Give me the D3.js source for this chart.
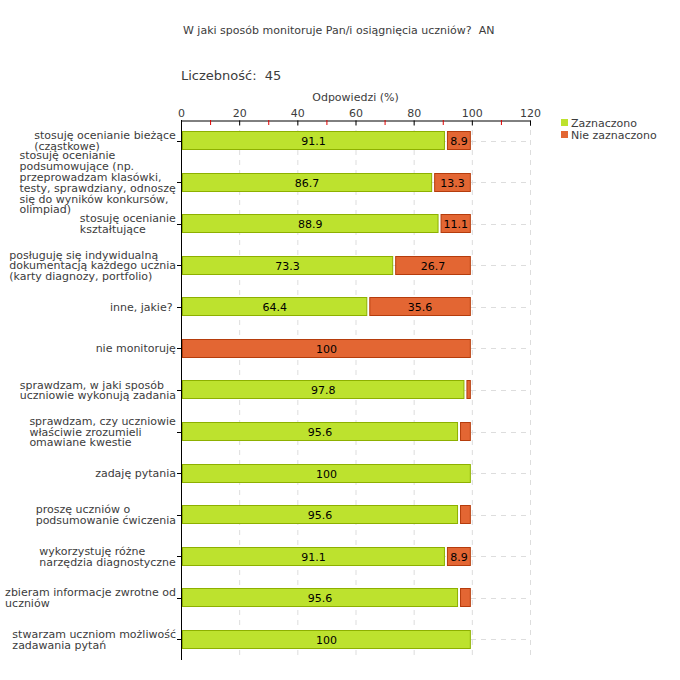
<!DOCTYPE html>
<html><head><meta charset="utf-8">
<script src="https://cdn.jsdelivr.net/npm/d3@7"></script>
<style>body{margin:0;background:#fff}svg{display:block}text{font-family:Verdana,"DejaVu Sans",sans-serif;white-space:pre}</style>
</head><body><svg id="c" width="680" height="680"></svg>
<script>
const categories = [
  ["stosuję ocenianie bieżące","(cząstkowe)"],
  ["stosuję ocenianie","podsumowujące (np.","przeprowadzam klasówki,","testy, sprawdziany, odnoszę","się do wyników konkursów,","olimpiad)"],
  ["stosuję ocenianie","kształtujące"],
  ["posługuję się indywidualną","dokumentacją każdego ucznia","(karty diagnozy, portfolio)"],
  ["inne, jakie? "],
  ["nie monitoruję"],
  ["sprawdzam, w jaki sposób","uczniowie wykonują zadania"],
  ["sprawdzam, czy uczniowie","właściwie zrozumieli","omawiane kwestie"],
  ["zadaję pytania"],
  ["proszę uczniów o","podsumowanie ćwiczenia"],
  ["wykorzystuję różne","narzędzia diagnostyczne"],
  ["zbieram informacje zwrotne od","uczniów"],
  ["stwarzam uczniom możliwość","zadawania pytań"]
];
const zaznaczono = [91.1,86.7,88.9,73.3,64.4,0,97.8,95.6,100,95.6,91.1,95.6,100];
const nieZaznaczono = [8.9,13.3,11.1,26.7,35.6,100,2.2,4.4,0,4.4,8.9,4.4,0];
const seriesNames = ["Zaznaczono","Nie zaznaczono"];
const xTicks = [0,20,40,60,80,100,120];
const minorTicks = [10,30,50,70,90,110];
const title = "W jaki sposób monitoruje Pan/i osiągnięcia uczniów?  AN";
const countLabel = "Liczebność:  45";
const axisTitle = "Odpowiedzi (%)";

const svg = d3.select("#c");
const L = 181, R = 530, T = 120, B = 660;
const x = d3.scaleLinear().domain([0,120]).range([L,R]);
const y = d3.scaleBand().domain(d3.range(categories.length)).range([T,B]).paddingInner(0.54).paddingOuter(0.27);
const fills = ["#bde22e","#e36633"], strokes = ["#8db000","#b53c0c"];
const textCol = "#3c3c3c";

svg.append("text").attr("x",183).attr("y",34).attr("font-size",11).attr("fill",textCol).text(title);
svg.append("text").attr("x",181).attr("y",80).attr("font-size",13).attr("fill",textCol).text(countLabel);
svg.append("text").attr("x",(L+R)/2).attr("y",101).attr("text-anchor","middle").attr("font-size",11).attr("fill",textCol).text(axisTitle);

// grid
const g = svg.append("g");
g.selectAll(".vg").data(xTicks.slice(1)).join("line")
  .attr("x1",d=>x(d)+0.5).attr("x2",d=>x(d)+0.5).attr("y1",T).attr("y2",B)
  .attr("stroke","#dddddd").attr("stroke-dasharray","5,5");
g.selectAll(".hg").data(d3.range(categories.length)).join("line")
  .attr("x1",L).attr("x2",R).attr("y1",i=>Math.round(y(i)+y.bandwidth()/2)+0.5).attr("y2",i=>Math.round(y(i)+y.bandwidth()/2)+0.5)
  .attr("stroke","#dddddd").attr("stroke-dasharray","5,5");

// bars
const rows = categories.map((c,i)=>[{v0:0,v1:zaznaczono[i],s:0},{v0:zaznaczono[i],v1:zaznaczono[i]+nieZaznaczono[i],s:1}]);
const rowG = svg.selectAll(".row").data(rows).join("g");
rowG.each(function(segs,i){
  const gg = d3.select(this);
  segs.filter(s=>s.v1-s.v0>0).forEach(s=>{
    const x0 = x(s.v0), x1 = x(s.v1);
    const yy = Math.round(y(i));
    gg.append("rect").attr("x",x0+1.5).attr("y",yy+0.5).attr("width",Math.max(1,x1-x0-3)).attr("height",Math.round(y.bandwidth())-1)
      .attr("fill",fills[s.s]).attr("stroke",strokes[s.s]).attr("stroke-width",1);
    if (x1-x0 > 20) {
      gg.append("text").attr("x",(x0+x1)/2).attr("y",yy+y.bandwidth()/2+4).attr("text-anchor","middle")
        .attr("font-size",11).attr("fill","#000").text(d3.format(".1~f")(s.v1-s.v0));
    }
  });
});

// x axis (top)
const xa = svg.append("g").attr("transform",`translate(0,${T+0.5})`)
  .call(d3.axisTop(x).tickValues(xTicks).tickSize(-5).tickPadding(4));
xa.select(".domain").attr("stroke","#000");
xa.selectAll(".tick line").attr("stroke","#000");
xa.selectAll(".tick text").attr("font-size",11).attr("fill",textCol).attr("font-family",'Verdana,"DejaVu Sans",sans-serif');
svg.selectAll(".mt").data(minorTicks).join("line")
  .attr("x1",d=>x(d)+0.5).attr("x2",d=>x(d)+0.5).attr("y1",T).attr("y2",T+5).attr("stroke","#e00000");

// y axis
svg.append("line").attr("x1",L+0.5).attr("x2",L+0.5).attr("y1",T).attr("y2",B).attr("stroke","#000");
svg.selectAll(".yt").data(d3.range(categories.length)).join("line")
  .attr("x1",L-4).attr("x2",L).attr("y1",i=>Math.round(y(i)+y.bandwidth()/2)+0.5).attr("y2",i=>Math.round(y(i)+y.bandwidth()/2)+0.5)
  .attr("stroke","#000");

// labels
const lh = 10.8;
categories.forEach((lines,i)=>{
  const cy = y(i)+y.bandwidth()/2;
  const t = svg.append("text").attr("font-size",11).attr("fill",textCol);
  lines.forEach((ln,j)=>{
    t.append("tspan").attr("x",0).attr("y",cy + (j-(lines.length-1)/2)*lh + 4).text(ln);
  });
  const w = t.node().getBBox().width;
  t.attr("transform",`translate(${176-w},0)`);
});

// legend
const lg = svg.append("g").attr("transform","translate(560,118)");
seriesNames.forEach((n,i)=>{
  lg.append("rect").attr("x",1).attr("y",i*12+1).attr("width",7).attr("height",7).attr("fill",fills[i]);
  lg.append("text").attr("x",11).attr("y",i*12+9).attr("font-size",11).attr("fill",textCol).text(n);
});
</script></body></html>
